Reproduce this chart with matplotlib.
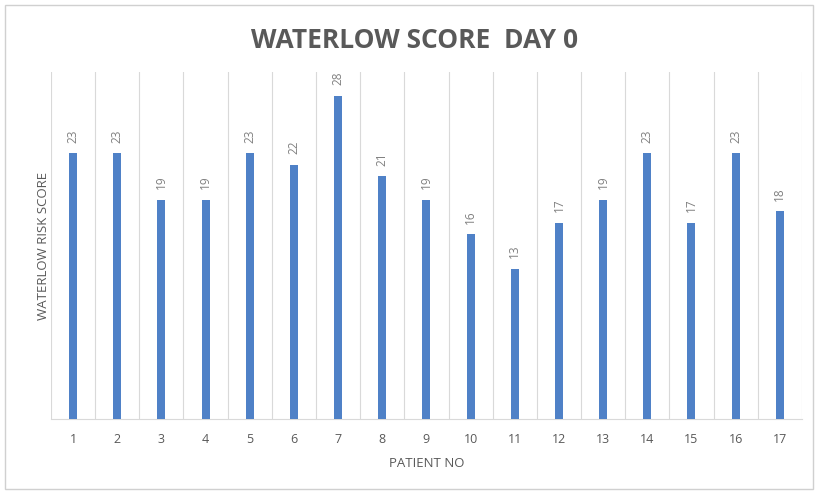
import numpy as np
import matplotlib
matplotlib.use("Agg")
import matplotlib.pyplot as plt
from matplotlib.patches import Rectangle

# --- datos ---
patients = [str(i) for i in range(1, 18)]
scores = [23, 23, 19, 19, 23, 22, 28, 21, 19, 16, 13, 17, 19, 23, 17, 23, 18]

bar_color = "#4F81C7"
text_gray = "#595959"
grid_gray = "#D9D9D9"

plt.rcParams['font.family'] = ['Open Sans', 'DejaVu Sans']

fig = plt.figure(figsize=(8.18, 4.93), dpi=100)
ax = fig.add_axes([0.0623, 0.15, 0.918, 0.703])

x = np.arange(len(scores))
bars = ax.bar(x, scores, width=0.18, color=bar_color, zorder=3)

for xi, v in zip(x, scores):
    ax.text(xi, v + 0.9, str(v), rotation=90, ha="center", va="bottom",
            fontsize=8.5, color="#808080")

# lineas verticales entre categorias
for b in np.arange(-0.5, len(scores) + 0.5, 1):
    ax.axvline(b, color=grid_gray, lw=0.8, zorder=1)

ax.set_xlim(-0.5, len(scores) - 0.5)
ax.set_ylim(0, 30)
ax.set_xticks(x)
ax.set_xticklabels(patients, color=text_gray, fontsize=9)
ax.set_yticks([])
ax.tick_params(axis="x", length=0, pad=10)

for s in ("top", "right", "left"):
    ax.spines[s].set_visible(False)
ax.spines["bottom"].set_color(grid_gray)

ax.set_xlabel("PATIENT NO", color=text_gray, fontsize=9.5, labelpad=8)
ax.set_ylabel("WATERLOW RISK SCORE", color=text_gray, fontsize=9.5, labelpad=1)

fig.text(0.507, 0.918, "WATERLOW SCORE  DAY 0", ha="center", va="center",
         fontsize=19, fontweight="bold", color=text_gray)

# borde del grafico
fig.patches.append(Rectangle((0.006, 0.008), 0.988, 0.982, transform=fig.transFigure,
                             fill=False, edgecolor="#D0D0D0", lw=1))

fig.savefig("out.png", dpi=100)
